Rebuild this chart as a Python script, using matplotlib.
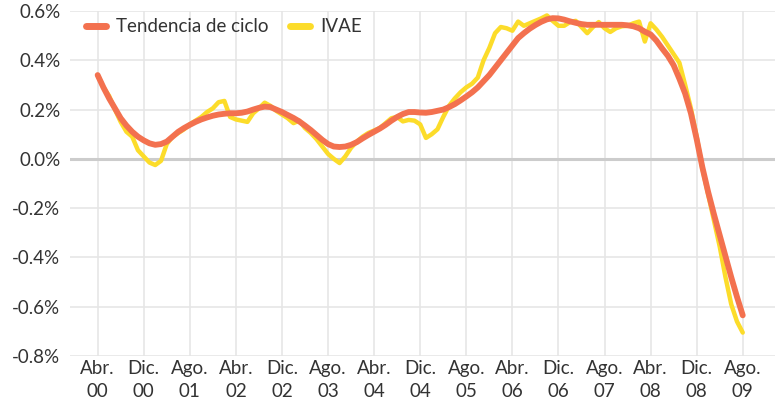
import matplotlib
matplotlib.use("Agg")
import matplotlib.pyplot as plt
import numpy as np

# Monthly series, Abr. 2000 .. Ago. 2009 (113 months), values in %
tendencia = [
    0.340, 0.290, 0.245, 0.205, 0.165, 0.135, 0.110, 0.090, 0.075, 0.063,
    0.057, 0.060, 0.070, 0.090, 0.110, 0.125, 0.138, 0.150, 0.160, 0.168,
    0.175, 0.180, 0.183, 0.185, 0.185, 0.187, 0.192, 0.200, 0.207, 0.212,
    0.210, 0.200, 0.190, 0.178, 0.166, 0.152, 0.135, 0.117, 0.097, 0.077,
    0.060, 0.050, 0.048, 0.050, 0.057, 0.068, 0.083, 0.097, 0.110, 0.123,
    0.138, 0.155, 0.170, 0.182, 0.190, 0.190, 0.188, 0.187, 0.190, 0.195,
    0.200, 0.210, 0.222, 0.237, 0.253, 0.270, 0.290, 0.315, 0.340, 0.370,
    0.400, 0.430, 0.460, 0.490, 0.510, 0.528, 0.543, 0.556, 0.566, 0.571,
    0.570, 0.565, 0.558, 0.552, 0.547, 0.544, 0.544, 0.544, 0.544, 0.544,
    0.544, 0.544, 0.542, 0.538, 0.530, 0.516, 0.505, 0.480, 0.448, 0.418,
    0.380, 0.325, 0.265, 0.185, 0.080, -0.035, -0.135, -0.225, -0.310, -0.395,
    -0.480, -0.560, -0.635,
]

ivae = [
    0.340, 0.290, 0.255, 0.200, 0.150, 0.110, 0.090, 0.035, 0.010, -0.015,
    -0.025, -0.008, 0.060, 0.090, 0.105, 0.120, 0.140, 0.155, 0.170, 0.190,
    0.205, 0.230, 0.235, 0.170, 0.160, 0.155, 0.150, 0.185, 0.205, 0.228,
    0.215, 0.195, 0.180, 0.165, 0.145, 0.155, 0.125, 0.105, 0.080, 0.050,
    0.020, 0.000, -0.017, 0.010, 0.045, 0.070, 0.090, 0.105, 0.115, 0.125,
    0.145, 0.165, 0.170, 0.152, 0.158, 0.155, 0.140, 0.085, 0.100, 0.120,
    0.170, 0.215, 0.245, 0.270, 0.290, 0.305, 0.330, 0.400, 0.450, 0.510,
    0.535, 0.530, 0.520, 0.557, 0.540, 0.550, 0.560, 0.570, 0.582, 0.560,
    0.540, 0.540, 0.555, 0.560, 0.535, 0.510, 0.535, 0.555, 0.530, 0.515,
    0.530, 0.538, 0.540, 0.550, 0.557, 0.476, 0.550, 0.525, 0.495, 0.460,
    0.425, 0.390, 0.300, 0.205, 0.090, -0.040, -0.145, -0.250, -0.356, -0.480,
    -0.590, -0.660, -0.705,
]

tick_labels = ["Abr.\n00", "Dic.\n00", "Ago.\n01", "Abr.\n02", "Dic.\n02",
               "Ago.\n03", "Abr.\n04", "Dic.\n04", "Ago.\n05", "Abr.\n06",
               "Dic.\n06", "Ago.\n07", "Abr.\n08", "Dic.\n08", "Ago.\n09"]
y_ticks = [0.6, 0.4, 0.2, 0.0, -0.2, -0.4, -0.6, -0.8]

plt.rcParams['font.family'] = ['Lato', 'DejaVu Sans']

months = np.arange(len(tendencia))
tick_pos = np.arange(0, len(tendencia), 8)

fig = plt.figure(figsize=(7.75, 4.0), dpi=100)
ax = fig.add_axes([70 / 775, 44 / 400, 705 / 775, 345 / 400])

ax.plot(months, ivae, color='#fcdc2a', linewidth=3.2,
        solid_capstyle='round', solid_joinstyle='round', label='IVAE', zorder=3)
ax.plot(months, tendencia, color='#f3714f', linewidth=4.2,
        solid_capstyle='round', solid_joinstyle='round',
        label='Tendencia de ciclo', zorder=4)

ax.set_xlim(-4.8, 117.6)
ax.set_ylim(-0.8, 0.6)
ax.set_xticks(tick_pos)
ax.set_xticklabels(tick_labels, linespacing=1.45)
ax.set_yticks(y_ticks)
ax.set_yticklabels([f"{v:.1f}%" for v in y_ticks])

ax.tick_params(axis='both', length=0, labelsize=13.5, colors='#333333')
ax.tick_params(axis='y', pad=7)
ax.tick_params(axis='x', pad=3)

ax.grid(True, color='#e6e6e6', linewidth=1.2)
ax.axhline(0, color='#cccccc', linewidth=2.2, zorder=2)
ax.set_axisbelow(True)
for s in ax.spines.values():
    s.set_visible(False)

handles, labels = ax.get_legend_handles_labels()
leg = ax.legend(handles[::-1], labels[::-1], loc='center left',
                bbox_to_anchor=(0.022, 0.954), ncol=2, frameon=False,
                fontsize=13.5, handlelength=1.1, handletextpad=0.55,
                columnspacing=1.1, borderpad=0, borderaxespad=0,
                labelcolor='#333333')
for line in leg.get_lines():
    line.set_linewidth(5)

fig.savefig('out.png', dpi=100)
